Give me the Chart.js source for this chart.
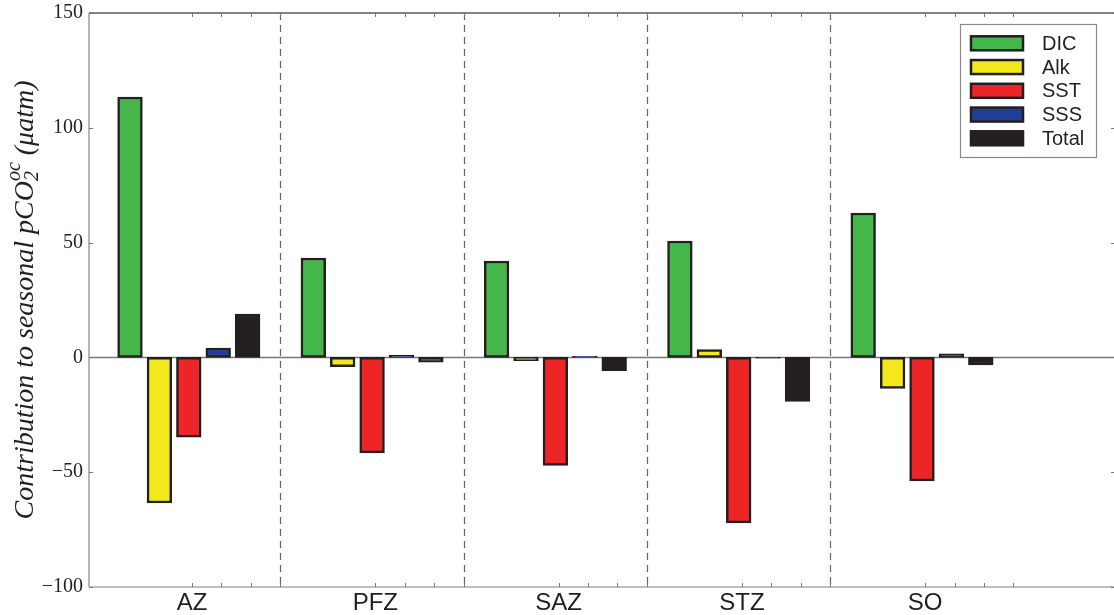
<!DOCTYPE html>
<html>
<head>
<meta charset="utf-8">
<script src="https://cdn.jsdelivr.net/npm/chart.js@4"></script>
<style>
  body { margin: 0; background: #fff; }
  #wrap { width: 1114px; height: 615px; position: relative; }
</style>
</head>
<body>
<div id="wrap"><canvas id="drivers"></canvas></div>
<script>
// Seasonal pCO2 contributions per zone
const zones = ['AZ', 'PFZ', 'SAZ', 'STZ', 'SO'];
const dic   = [113.4, 43.3, 42.0, 50.7, 62.9];
const alk   = [-63.4, -4.0, -1.4, 3.4, -13.5];
const sst   = [-34.7, -41.6, -47.1, -72.1, -53.8];
const sss   = [4.1, 1.0, 0.5, -0.3, 1.6];
const total = [18.9, -2.1, -5.8, -19.2, -3.3];
const yTicks = [-100, -50, 0, 50, 100, 150];

const names  = ['DIC', 'Alk', 'SST', 'SSS', 'Total'];
const fills  = ['#45b649', '#f2e81b', '#ee2527', '#213f98', '#231f20'];
const series = [dic, alk, sst, sss, total];

// x units: one zone per unit, four minor ticks per zone
const step = 0.1604;
const groupShift = -0.0175;

const datasets = series.map((vals, k) => ({
  label: names[k],
  data: vals.map((v, i) => ({ x: i + groupShift, y: v })),
  backgroundColor: fills[k],
  borderColor: '#231f20',
  borderWidth: 2.5,
  borderSkipped: false,
  barThickness: 'flex',
  categoryPercentage: 0.802,
  barPercentage: 0.84
}));

const xTickVals = [];
zones.forEach((z, i) => { for (let k = 0; k < 4; k++) xTickVals.push(i + k * step); });

const frame = {
  id: 'frame',
  beforeDatasetsDraw(chart) {
    const { ctx, chartArea: a, scales: { x, y } } = chart;
    ctx.save();
    // zero line
    ctx.strokeStyle = '#777';
    ctx.lineWidth = 1.5;
    ctx.beginPath();
    ctx.moveTo(a.left, y.getPixelForValue(0));
    ctx.lineTo(a.right, y.getPixelForValue(0));
    ctx.stroke();
    // zone separators
    ctx.setLineDash([7, 5]);
    ctx.lineWidth = 1.2;
    ctx.strokeStyle = '#666';
    for (let i = 0; i < zones.length - 1; i++) {
      const px = Math.round(x.getPixelForValue(i + 3 * step)) + 0.5;
      ctx.beginPath();
      ctx.moveTo(px, a.top);
      ctx.lineTo(px, a.bottom);
      ctx.stroke();
    }
    ctx.restore();
  },
  afterDraw(chart) {
    const { ctx, chartArea: a, scales: { x, y } } = chart;
    ctx.save();
    // spines
    ctx.lineWidth = 1.5;
    ctx.strokeStyle = '#5a5a5a';
    ctx.beginPath(); ctx.moveTo(a.left, a.top); ctx.lineTo(a.right, a.top); ctx.stroke();
    ctx.strokeStyle = '#9d9d9d';
    ctx.beginPath(); ctx.moveTo(a.left, a.top); ctx.lineTo(a.left, a.bottom); ctx.stroke();
    ctx.strokeStyle = '#a8a8a8';
    ctx.beginPath(); ctx.moveTo(a.left, a.bottom); ctx.lineTo(a.right, a.bottom); ctx.stroke();

    // inward ticks
    ctx.lineWidth = 1;
    ctx.strokeStyle = '#777';
    x.ticks.forEach(t => {
      const px = Math.round(x.getPixelForValue(t.value)) + 0.5;
      ctx.beginPath();
      ctx.moveTo(px, a.bottom); ctx.lineTo(px, a.bottom - 4);
      ctx.moveTo(px, a.top); ctx.lineTo(px, a.top + 4);
      ctx.stroke();
    });
    y.ticks.forEach(t => {
      const py = Math.round(y.getPixelForValue(t.value)) + 0.5;
      ctx.beginPath();
      ctx.moveTo(a.left, py); ctx.lineTo(a.left + 4, py);
      ctx.moveTo(a.right, py); ctx.lineTo(a.right - 3, py);
      ctx.stroke();
    });

    // legend box
    const lx = 960, ly = 24, lw = 136, lh = 133;
    ctx.fillStyle = '#fff';
    ctx.fillRect(lx, ly, lw, lh);
    ctx.strokeStyle = '#8a8a8a';
    ctx.lineWidth = 1.2;
    ctx.strokeRect(lx + 0.5, ly + 0.5, lw, lh);
    ctx.font = '20px "Liberation Sans", Arial, sans-serif';
    ctx.textBaseline = 'middle';
    ctx.textAlign = 'left';
    chart.data.datasets.forEach((ds, k) => {
      const cy = 43.3 + k * 23.75;
      ctx.fillStyle = ds.backgroundColor;
      ctx.fillRect(971, cy - 7, 52, 14);
      ctx.strokeStyle = '#231f20';
      ctx.lineWidth = 2.5;
      ctx.strokeRect(971, cy - 7, 52, 14);
      ctx.fillStyle = '#231f20';
      ctx.fillText(ds.label, 1042, cy + 1);
    });

    // y axis title with sub/superscript
    const big = 'italic 28px "Liberation Serif", "Times New Roman", serif';
    const small = 'italic 20px "Liberation Serif", "Times New Roman", serif';
    const head = 'Contribution to seasonal pCO';
    const tail = ' (\u03bcatm)';
    ctx.font = big;
    const wHead = ctx.measureText(head).width;
    const wTail = ctx.measureText(tail).width;
    ctx.font = small;
    const wScript = Math.max(ctx.measureText('2').width, ctx.measureText('oc').width);
    const full = wHead + wScript + wTail;
    ctx.translate(33, (a.top + a.bottom) / 2);
    ctx.rotate(-Math.PI / 2);
    ctx.fillStyle = '#231f20';
    ctx.textBaseline = 'alphabetic';
    let cx = -full / 2;
    ctx.font = big;
    ctx.fillText(head, cx, 0);
    cx += wHead;
    ctx.font = small;
    ctx.fillText('2', cx, 5);
    ctx.fillText('oc', cx, -13);
    cx += wScript;
    ctx.font = big;
    ctx.fillText(tail, cx, 0);
    ctx.restore();
  }
};

new Chart(document.getElementById('drivers'), {
  type: 'bar',
  data: { datasets },
  options: {
    responsive: true,
    maintainAspectRatio: false,
    animation: false,
    layout: { padding: { top: 13, right: 0, left: 0, bottom: 0 } },
    plugins: { legend: { display: false }, tooltip: { enabled: false } },
    scales: {
      x: {
        type: 'linear',
        offset: false,
        min: -0.562,
        max: 5.03,
        grid: { display: false, drawTicks: false },
        border: { display: false },
        afterBuildTicks: s => { s.ticks = xTickVals.map(v => ({ value: v })); },
        afterFit: s => { s.height = 28; s.paddingLeft = 0; s.paddingRight = 0; },
        ticks: {
          autoSkip: false,
          maxRotation: 0,
          padding: 2,
          color: '#231f20',
          font: { family: '"Liberation Sans", Arial, sans-serif', size: 24 },
          callback: (v, i) => (i % 4 === 0 ? zones[i / 4] : '')
        }
      },
      y: {
        min: -100,
        max: 150,
        grid: { display: false, drawTicks: false },
        border: { display: false },
        afterBuildTicks: s => { s.ticks = yTicks.map(v => ({ value: v })); },
        afterFit: s => { s.width = 89; s.paddingTop = 0; s.paddingBottom = 0; },
        ticks: {
          padding: 6,
          color: '#231f20',
          font: { family: '"Liberation Serif", "Times New Roman", serif', size: 20 },
          callback: v => String(v).replace('-', '\u2212')
        }
      }
    }
  },
  plugins: [frame]
});
</script>
</body>
</html>
